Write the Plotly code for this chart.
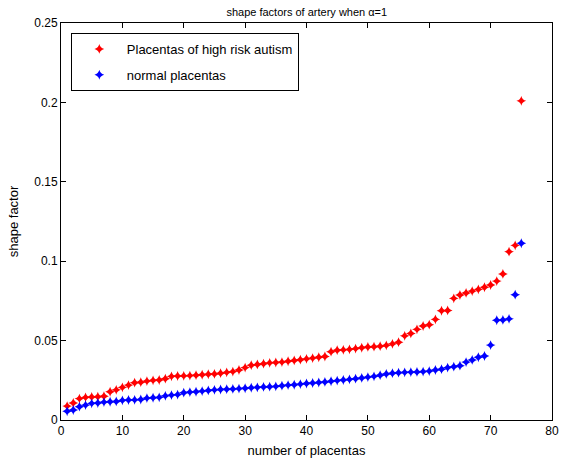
import plotly.graph_objects as go

n_placentas = list(range(1, 76))

high_risk = [
    0.0088, 0.0107, 0.0135, 0.0143, 0.0145, 0.0147, 0.0150, 0.0178, 0.0190, 0.0206,
    0.0220, 0.0235, 0.0238, 0.0245, 0.0250, 0.0252, 0.0260, 0.0275, 0.0277, 0.0278,
    0.0280, 0.0282, 0.0285, 0.0288, 0.0290, 0.0295, 0.0300, 0.0305, 0.0315, 0.0330,
    0.0345, 0.0350, 0.0355, 0.0360, 0.0362, 0.0365, 0.0370, 0.0375, 0.0380, 0.0385,
    0.0390, 0.0395, 0.0400, 0.0430, 0.0440, 0.0442, 0.0445, 0.0450, 0.0455, 0.0460,
    0.0462, 0.0465, 0.0470, 0.0480, 0.0490, 0.0530, 0.0545, 0.0571, 0.0592, 0.0600,
    0.0634, 0.0688, 0.0690, 0.0766, 0.0787, 0.0800, 0.0812, 0.0823, 0.0836, 0.0850,
    0.0875, 0.0920, 0.1060, 0.1100, 0.2010,
]

normal = [
    0.0055, 0.0063, 0.0084, 0.0094, 0.0105, 0.0107, 0.0113, 0.0115, 0.0117, 0.0124,
    0.0126, 0.0127, 0.0129, 0.0138, 0.0140, 0.0143, 0.0152, 0.0157, 0.0160, 0.0172,
    0.0176, 0.0178, 0.0182, 0.0186, 0.0190, 0.0192, 0.0194, 0.0196, 0.0198, 0.0200,
    0.0203, 0.0206, 0.0208, 0.0210, 0.0212, 0.0216, 0.0220, 0.0222, 0.0226, 0.0230,
    0.0233, 0.0236, 0.0240, 0.0244, 0.0248, 0.0252, 0.0256, 0.0260, 0.0265, 0.0270,
    0.0275, 0.0282, 0.0290, 0.0295, 0.0298, 0.0300, 0.0302, 0.0303, 0.0305, 0.0308,
    0.0315, 0.0320, 0.0330, 0.0336, 0.0342, 0.0365, 0.0378, 0.0395, 0.0403, 0.0472,
    0.0628, 0.0630, 0.0637, 0.0789, 0.1113,
]

font = "Liberation Sans, Arial, sans-serif"

fig = go.Figure()
fig.add_trace(go.Scatter(
    x=n_placentas, y=high_risk, mode="markers",
    name="Placentas of high risk autism", legendgroup="a",
    marker=dict(symbol="star-diamond", size=7, color="#ff0000"),
))
fig.add_trace(go.Scatter(
    x=n_placentas, y=normal, mode="markers",
    name="normal placentas", legendgroup="b",
    marker=dict(symbol="star-diamond", size=7, color="#0000ff"),
))

axis_common = dict(
    showgrid=False, zeroline=False, showline=True, linecolor="black", linewidth=1,
    mirror="ticks", ticks="inside", ticklen=5, tickcolor="black", automargin=False,
    tickfont=dict(family=font, size=12, color="black"),
)

fig.update_layout(
    width=565, height=460,
    margin=dict(l=61, r=13, t=23, b=40),
    paper_bgcolor="white", plot_bgcolor="white",
    title=dict(text="shape factors of artery when α=1", x=0.543, xanchor="center",
               y=0.974, yanchor="middle",
               font=dict(family=font, size=11, color="black")),
    xaxis=dict(range=[0, 80], dtick=10, **axis_common,
               title=dict(text="number of placentas", standoff=8,
                          font=dict(family=font, size=13, color="black"))),
    yaxis=dict(range=[0, 0.25], dtick=0.05, **axis_common,
               title=dict(text="shape factor", standoff=12,
                          font=dict(family=font, size=13, color="black"))),
    legend=dict(x=0.02, y=0.975, xanchor="left", yanchor="top",
                bordercolor="black", borderwidth=1, bgcolor="white",
                traceorder="grouped", tracegroupgap=6, itemwidth=45,
                font=dict(family=font, size=13, color="black")),
    showlegend=True,
)

fig.write_html("out.html",
               config={"displayModeBar": False},
               post_script="document.body.style.margin='0';document.body.style.overflow='hidden';")
